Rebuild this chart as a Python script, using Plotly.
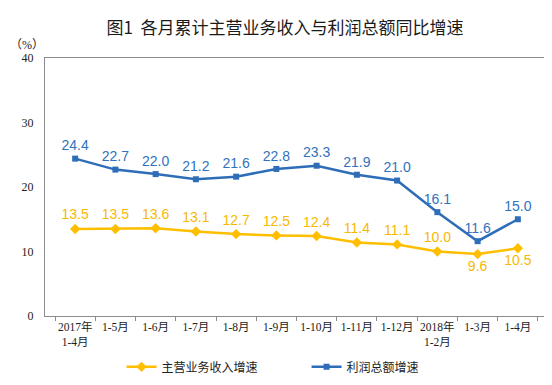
import plotly.graph_objects as go

categories = ["2017年<br>1-4月", "1-5月", "1-6月", "1-7月", "1-8月", "1-9月", "1-10月",
              "1-11月", "1-12月", "2018年<br>1-2月", "1-3月", "1-4月"]
revenue_growth = [13.5, 13.5, 13.6, 13.1, 12.7, 12.5, 12.4, 11.4, 11.1, 10.0, 9.6, 10.5]
profit_growth = [24.4, 22.7, 22.0, 21.2, 21.6, 22.8, 23.3, 21.9, 21.0, 16.1, 11.6, 15.0]
y_ticks = [0, 10, 20, 30, 40]

YELLOW = "#FFBF00"
YELLOW_TXT = "#F7B900"
BLUE = "#2E6DB8"
BLUE_TXT = "#2F72BD"

rev_pos = ["top center"] * len(revenue_growth)
rev_pos[-2] = "bottom center"
rev_pos[-1] = "bottom center"

fig = go.Figure()
fig.add_trace(go.Scatter(
    x=categories, y=revenue_growth, name="主营业务收入增速",
    mode="lines+markers+text",
    line=dict(color=YELLOW, width=2.5),
    marker=dict(symbol="diamond", size=8, color=YELLOW),
    text=[f"{v:.1f}" for v in revenue_growth], textposition=rev_pos,
    textfont=dict(family="Liberation Sans, Arial", size=14, color=YELLOW_TXT),
    cliponaxis=False,
))
fig.add_trace(go.Scatter(
    x=categories, y=profit_growth, name="利润总额增速",
    mode="lines+markers+text",
    line=dict(color=BLUE, width=2.5),
    marker=dict(symbol="square", size=6, color=BLUE),
    text=[f"{v:.1f}" for v in profit_growth], textposition="top center",
    textfont=dict(family="Liberation Sans, Arial", size=14, color=BLUE_TXT),
    cliponaxis=False,
))

fig.update_layout(
    width=552, height=385,
    margin=dict(l=37, r=12, t=50, b=73),
    paper_bgcolor="white", plot_bgcolor="white",
    title=dict(text="图1  各月累计主营业务收入与利润总额同比增速",
               x=0.502, xanchor="center", y=1 - 20 / 385, yanchor="middle",
               font=dict(family="Noto Sans CJK SC", size=17, color="#1a1a1a")),
    showlegend=True,
    legend=dict(orientation="h", x=0.52, xanchor="center", y=-0.197, yanchor="middle",
                font=dict(family="Noto Sans CJK SC", size=12, color="#222"),
                entrywidth=140, itemwidth=30),
    xaxis=dict(
        type="category", showline=True, linecolor="#8c8c8c", linewidth=1, mirror=True,
        ticks="outside", tickson="boundaries", ticklen=4, tickcolor="#8c8c8c",
        showgrid=False, zeroline=False, tickangle=0,
        tickfont=dict(family="Liberation Serif, Noto Sans CJK SC", size=11.5, color="#222"),
    ),
    yaxis=dict(
        range=[0, 40], tickvals=y_ticks, showline=True, linecolor="#8c8c8c", linewidth=1,
        mirror=True, ticks="", showgrid=False, zeroline=False, ticklabelstandoff=8,
        tickfont=dict(family="Liberation Serif", size=12, color="#222"),
    ),
)

fig.add_annotation(text="（%）", xref="paper", yref="paper", x=-0.035, y=1 + 13 / 261,
                   xanchor="center", yanchor="middle", showarrow=False,
                   font=dict(family="Liberation Serif, Noto Sans CJK SC", size=12, color="#222"))

fig.write_html("out.html")
